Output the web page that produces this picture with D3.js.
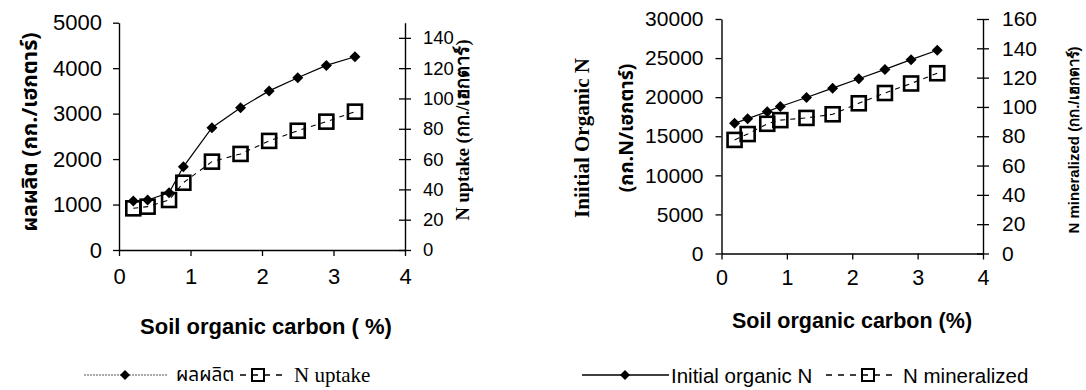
<!DOCTYPE html>
<html>
<head>
<meta charset="utf-8">
<script src="https://cdn.jsdelivr.net/npm/d3@7"></script>
<style>
  html, body { margin: 0; padding: 0; background: #fff; }
  svg { display: block; }
  .sans { font-family: "Liberation Sans", Arial, sans-serif; }
  .serif { font-family: "Liberation Serif", "Times New Roman", serif; }
  .thai { font-family: "Noto Sans Thai", "Loma", "Garuda", "Liberation Sans", sans-serif; }
</style>
</head>
<body>
<svg id="chart" width="1086" height="390"></svg>
<script>
// Soil organic carbon (%) at each sampled site
const soc = [0.2, 0.4, 0.7, 0.9, 1.3, 1.7, 2.1, 2.5, 2.9, 3.3];

// Left panel: grain yield (kg/ha) and N uptake (kg/ha)
const yieldKg = [1080, 1100, 1260, 1830, 2690, 3130, 3500, 3790, 4060, 4250];
const nUptake = [27.5, 28.6, 33, 44.4, 58.3, 63.4, 72, 78.7, 84.7, 91.3];

// Right panel: initial organic N (kg N/ha) and N mineralized (kg/ha)
const initialN = [16650, 17250, 18150, 18800, 19950, 21150, 22350, 23550, 24800, 26000];
const nMineralized = [77.5, 81.5, 88.5, 91, 92.5, 95, 102.5, 109.5, 116, 123];

// Tick values
const xTicks = [0, 1, 2, 3, 4];
const yieldTicks = [0, 1000, 2000, 3000, 4000, 5000];
const uptakeTicks = [0, 20, 40, 60, 80, 100, 120, 140];
const initNTicks = [0, 5000, 10000, 15000, 20000, 25000, 30000];
const minTicks = [0, 20, 40, 60, 80, 100, 120, 140, 160];

const svg = d3.select("#chart");
svg.append("rect").attr("width", 1086).attr("height", 390).attr("fill", "#fff");

const fmt = d3.format("d");
const diamondPath = r => `M0,${-r}L${r},0L0,${r}L${-r},0Z`;

function styleAxis(g, fontSize) {
  g.select(".domain").attr("stroke", "#000").attr("stroke-width", 1.4);
  g.selectAll(".tick line").attr("stroke", "#000").attr("stroke-width", 1.3);
  g.selectAll(".tick text")
    .attr("class", "sans")
    .attr("fill", "#000")
    .style("font-size", fontSize + "px");
}

function drawPanel(cfg) {
  const x = d3.scaleLinear().domain([0, 4]).range([cfg.left, cfg.right]);
  const yL = d3.scaleLinear().domain(cfg.leftDomain).range([cfg.bottom, cfg.top]);
  const yR = d3.scaleLinear().domain(cfg.rightDomain).range([cfg.bottom, cfg.top]);

  // bottom axis
  const gx = svg.append("g")
    .attr("transform", `translate(0,${cfg.bottom})`)
    .call(d3.axisBottom(x).tickValues(xTicks).tickFormat(fmt)
      .tickSize(6).tickSizeOuter(0).tickPadding(cfg.xPad));
  styleAxis(gx, cfg.xFont);

  // left axis
  const gl = svg.append("g")
    .attr("transform", `translate(${cfg.left},0)`)
    .call(d3.axisLeft(yL).tickValues(cfg.leftTicks).tickFormat(fmt)
      .tickSize(6).tickSizeOuter(0).tickPadding(cfg.lPad));
  styleAxis(gl, cfg.lFont);

  // right axis with crossing ticks
  const gr = svg.append("g")
    .attr("transform", `translate(${cfg.right},0)`)
    .call(d3.axisRight(yR).tickValues(cfg.rightTicks).tickFormat(fmt)
      .tickSize(6).tickSizeOuter(0).tickPadding(cfg.rPad));
  styleAxis(gr, cfg.rFont);
  gr.selectAll(".tick line").attr("x1", -6).attr("x2", 6);

  // dashed series on the right axis
  const lineR = d3.line().x((d, i) => x(soc[i])).y(d => yR(d));
  svg.append("path")
    .datum(cfg.rightSeries)
    .attr("d", lineR)
    .attr("fill", "none")
    .attr("stroke", "#000")
    .attr("stroke-width", 1.1)
    .attr("stroke-dasharray", "5,5");

  // solid series on the left axis
  const lineL = d3.line().x((d, i) => x(soc[i])).y(d => yL(d));
  svg.append("path")
    .datum(cfg.leftSeries)
    .attr("d", lineL)
    .attr("fill", "none")
    .attr("stroke", "#000")
    .attr("stroke-width", 1.2);

  // hollow squares
  svg.append("g").selectAll("rect")
    .data(cfg.rightSeries)
    .join("rect")
    .attr("x", (d, i) => x(soc[i]) - cfg.sq / 2)
    .attr("y", d => yR(d) - cfg.sq / 2)
    .attr("width", cfg.sq)
    .attr("height", cfg.sq)
    .attr("fill", "none")
    .attr("stroke", "#000")
    .attr("stroke-width", 2.6);

  // filled diamonds
  svg.append("g").selectAll("path")
    .data(cfg.leftSeries)
    .join("path")
    .attr("transform", (d, i) => `translate(${x(soc[i])},${yL(d)})`)
    .attr("d", diamondPath(cfg.dia))
    .attr("fill", "#000");
}

drawPanel({
  left: 119, right: 405, top: 22.7, bottom: 250,
  leftDomain: [0, 5000], rightDomain: [0, 150],
  leftTicks: yieldTicks, rightTicks: uptakeTicks,
  leftSeries: yieldKg, rightSeries: nUptake,
  xFont: 22, lFont: 22, rFont: 18.5,
  xPad: 12, lPad: 11, rPad: 12,
  sq: 14, dia: 5.5
});

drawPanel({
  left: 721.5, right: 983, top: 19, bottom: 253.5,
  leftDomain: [0, 30000], rightDomain: [0, 160],
  leftTicks: initNTicks, rightTicks: minTicks,
  leftSeries: initialN, rightSeries: nMineralized,
  xFont: 21.5, lFont: 21, rFont: 21,
  xPad: 10, lPad: 12, rPad: 13,
  sq: 14, dia: 5.5
});

// axis titles
function vText(cx, cy, txt, cls, size, weight) {
  svg.append("text")
    .attr("class", cls)
    .attr("transform", `translate(${cx},${cy}) rotate(-90)`)
    .attr("text-anchor", "middle")
    .attr("dominant-baseline", "central")
    .style("font-size", size + "px")
    .style("font-weight", weight)
    .text(txt);
}

vText(30, 132, "ผลผลิต (กก./เฮกตาร์)", "thai", 21.5, "bold");
vText(463, 130, "N uptake  (กก./เฮกตาร์)", "serif", 18.5, "bold");
vText(582, 138, "Iniitial Organic N", "serif", 21, "bold");
vText(627, 128, "(กก.N/เฮกตาร์)", "thai", 19.5, "bold");
vText(1073, 140, "N mineralized (กก./เฮกตาร์)", "sans", 15, "bold");

svg.append("text").attr("class", "sans")
  .attr("x", 266).attr("y", 334).attr("text-anchor", "middle")
  .style("font-size", "22px").style("font-weight", "bold")
  .text("Soil organic carbon ( %)");
svg.append("text").attr("class", "sans")
  .attr("x", 852).attr("y", 328).attr("text-anchor", "middle")
  .style("font-size", "21.5px").style("font-weight", "bold")
  .text("Soil organic carbon (%)");

// legends
const legY = 375;
function legendEntry(x0, x1, mx, marker, dashed, grey) {
  svg.append("line")
    .attr("x1", x0).attr("x2", x1).attr("y1", legY).attr("y2", legY)
    .attr("stroke", grey ? "#555" : "#000")
    .attr("stroke-width", grey ? 1 : 1.3)
    .attr("stroke-dasharray", dashed ? "6,6" : (grey ? "2,1" : null));
  if (marker === "diamond") {
    svg.append("path").attr("transform", `translate(${mx},${legY})`)
      .attr("d", diamondPath(5)).attr("fill", "#000");
  } else {
    svg.append("rect").attr("x", mx - 6).attr("y", legY - 6)
      .attr("width", 12).attr("height", 12)
      .attr("fill", "none").attr("stroke", "#000").attr("stroke-width", 2);
  }
}
function legendText(x, txt, cls, size) {
  svg.append("text").attr("class", cls)
    .attr("x", x).attr("y", legY).attr("dominant-baseline", "central")
    .style("font-size", size + "px").text(txt);
}

legendEntry(84, 167, 125, "diamond", false, true);
legendText(176, "ผลผลิต", "thai", 19);
legendEntry(240, 285, 258, "square", true, false);
legendText(294, "N uptake", "serif", 21);

legendEntry(582, 669, 625, "diamond", false, false);
legendText(671, "Initial organic N", "sans", 20.5);
legendEntry(826, 896, 868, "square", true, false);
legendText(903, "N mineralized", "sans", 20.5);
</script>
</body>
</html>
